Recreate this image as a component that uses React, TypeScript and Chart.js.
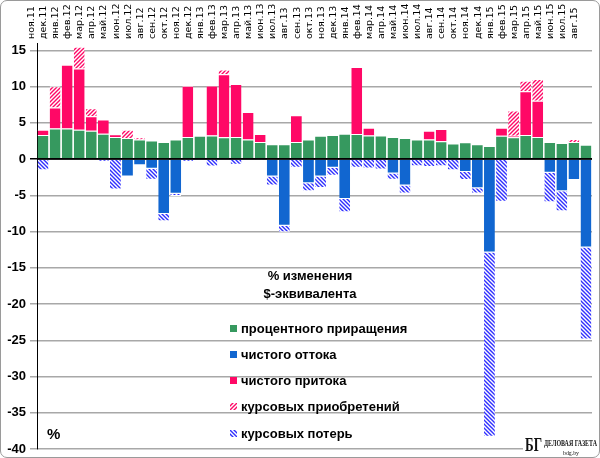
import { useEffect, useRef } from 'react';
import { Chart, registerables } from 'chart.js';

Chart.register(...registerables);

const months = [
  'ноя.11', 'дек.11', 'янв.12', 'фев.12', 'мар.12', 'апр.12', 'май.12', 'июн.12', 'июл.12', 'авг.12',
  'сен.12', 'окт.12', 'ноя.12', 'дек.12', 'янв.13', 'фев.13', 'мар.13', 'апр.13', 'май.13', 'июн.13',
  'июл.13', 'авг.13', 'сен.13', 'окт.13', 'ноя.13', 'дек.13', 'янв.14', 'фев.14', 'мар.14', 'апр.14',
  'май.14', 'июн.14', 'июл.14', 'авг.14', 'сен.14', 'окт.14', 'ноя.14', 'дек.14', 'янв.15', 'фев.15',
  'мар.15', 'апр.15', 'май.15', 'июн.15', 'июл.15', 'авг.15',
];

// процентного приращения
const interest = [
  3.3, 4.2, 4.2, 4.05, 3.9, 3.5, 3.05, 2.9, 2.7, 2.55,
  2.35, 2.7, 3.05, 3.2, 3.25, 3.0, 3.05, 2.7, 2.35, 2.05,
  2.05, 2.35, 2.7, 3.2, 3.3, 3.5, 3.45, 3.25, 3.25, 3.05,
  2.9, 2.7, 2.7, 2.45, 2.15, 2.3, 2.05, 1.8, 3.2, 3.0,
  3.3, 3.05, 2.35, 2.2, 2.35, 1.95,
];

// чистого оттока
const outflow = [
  null, null, null, null, null, null, null, -2.4, -0.85, -1.35,
  -7.6, -4.8, null, -0.15, null, null, null, null, -0.1, -2.4,
  -9.2, null, -3.35, -2.4, -1.2, -5.5, null, null, null, -2.0,
  -3.65, null, null, null, null, -1.8, -4.05, -12.9, null, null,
  null, null, -1.9, -4.45, -2.9, -12.2,
];

// чистого притока
const inflow = [
  0.75, 2.9, 8.8, 8.45, 2.0, 1.95, 0.35, null, null, null,
  null, null, 7.05, null, 6.9, 8.7, 7.3, 3.8, 1.1, null,
  null, 3.7, null, null, null, null, 9.25, 1.05, null, null,
  null, null, 1.2, 1.7, null, null, null, null, 1.1, 0.2,
  6.05, 5.0, null, null, null, null,
];

// курсовых приобретений
const fxGains = [
  null, 2.95, null, 3.0, 1.1, null, null, 1.15, 0.3, null,
  null, null, null, null, null, 0.65, null, null, null, null,
  null, null, null, null, null, null, null, null, null, null,
  null, null, null, null, null, null, null, null, null, 3.5,
  1.45, 3.0, null, null, 0.4, null,
];

// курсовых потерь
const fxLosses = [
  -1.55, null, null, null, null, -0.35, -4.2, null, null, -1.5,
  -1.0, -0.3, -0.35, null, -1.05, null, -0.8, null, -0.1, -1.25,
  -0.9, -1.2, -1.1, -1.6, -1.1, -1.85, -1.2, -1.3, -1.45, -0.85,
  -1.1, -1.0, -1.1, -1.0, -1.55, -1.1, -0.7, -25.4, -5.9, null,
  null, null, -4.05, -2.75, null, -12.7,
];

const GREEN = '#36995f';
const BLUE = '#1166d0';
const PINK = '#ff0866';
const HATCH_BLUE = '#2f2fff';

function makeHatch(color: string, dir: '/' | '\\') {
  const c = document.createElement('canvas');
  c.width = 4;
  c.height = 4;
  const g = c.getContext('2d')!;
  g.fillStyle = '#fff';
  g.fillRect(0, 0, 4, 4);
  g.strokeStyle = color;
  g.lineWidth = 1.4;
  g.beginPath();
  if (dir === '/') {
    g.moveTo(-1, 5); g.lineTo(5, -1);
    g.moveTo(-1, 1); g.lineTo(1, -1);
    g.moveTo(3, 5); g.lineTo(5, 3);
  } else {
    g.moveTo(-1, -1); g.lineTo(5, 5);
    g.moveTo(-1, 3); g.lineTo(1, 5);
    g.moveTo(3, -1); g.lineTo(5, 1);
  }
  g.stroke();
  return g.createPattern(c, 'repeat')!;
}

export default function App() {
  const chartRef = useRef<HTMLCanvasElement>(null);
  const chartInstance = useRef<Chart | null>(null);

  useEffect(() => {
    document.body.style.margin = '0';
    if (!chartRef.current) return;
    if (chartInstance.current) chartInstance.current.destroy();
    const ctx = chartRef.current.getContext('2d');
    if (!ctx) return;

    const pinkHatch = makeHatch(PINK, '/');
    const blueHatch = makeHatch(HATCH_BLUE, '\\');

    const barStyle = {
      borderColor: '#ffffff',
      borderWidth: { top: 1, bottom: 1, left: 0, right: 0 },
      borderSkipped: 'start' as const,
      barPercentage: 0.9,
      categoryPercentage: 1,
    };

    const legendItems = [
      { text: 'процентного приращения', fill: GREEN as string | CanvasPattern },
      { text: 'чистого оттока', fill: BLUE },
      { text: 'чистого притока', fill: PINK },
      { text: 'курсовых приобретений', fill: pinkHatch },
      { text: 'курсовых потерь', fill: blueHatch },
    ];
    const legendY = [329, 355, 381, 407, 434];

    const overlay = {
      id: 'overlay',
      afterDatasetsDraw(chart: Chart) {
        const c = chart.ctx;
        const y0 = chart.scales.y.getPixelForValue(0);
        c.save();
        c.strokeStyle = '#000';
        c.lineWidth = 1.5;
        c.beginPath();
        c.moveTo(chart.chartArea.left, y0);
        c.lineTo(chart.chartArea.right, y0);
        c.stroke();
        c.restore();
      },
      afterDraw(chart: Chart) {
        const c = chart.ctx;
        c.save();
        c.fillStyle = '#000';
        c.textBaseline = 'middle';
        c.textAlign = 'center';
        c.font = 'bold 13px "Liberation Sans", Arial, sans-serif';
        c.fillText('% изменения', 310, 276);
        c.fillText('$-эквивалента', 310, 294);

        c.textAlign = 'left';
        legendItems.forEach((it, i) => {
          const cy = legendY[i];
          c.fillStyle = it.fill;
          c.fillRect(230, cy - 4, 7, 7);
          c.fillStyle = '#000';
          c.fillText(it.text, 241, cy);
        });

        c.font = 'bold 15px "Liberation Sans", Arial, sans-serif';
        c.fillText('%', 47, 435);

        // watermark
        c.fillStyle = '#fff';
        c.fillRect(523, 436, 76, 20);
        c.fillStyle = '#111';
        c.font = 'bold 19px "Liberation Serif", serif';
        c.fillText('БГ', 525, 446, 17);
        c.font = 'bold 9px "Liberation Serif", serif';
        c.fillText('ДЕЛОВАЯ ГАЗЕТА', 544, 444, 53);
        c.font = '6px "Liberation Serif", serif';
        c.fillText('bdg.by', 563, 453, 16);
        c.restore();
      },
    };

    chartInstance.current = new Chart(ctx, {
      type: 'bar',
      data: {
        labels: months,
        datasets: [
          { label: 'процентного приращения', data: interest, backgroundColor: GREEN, ...barStyle },
          { label: 'чистого оттока', data: outflow, backgroundColor: BLUE, ...barStyle },
          { label: 'чистого притока', data: inflow, backgroundColor: PINK, ...barStyle },
          { label: 'курсовых приобретений', data: fxGains, backgroundColor: pinkHatch, ...barStyle },
          { label: 'курсовых потерь', data: fxLosses, backgroundColor: blueHatch, ...barStyle },
        ],
      },
      options: {
        responsive: false,
        animation: false,
        layout: { padding: { top: 0, left: 0, right: 8, bottom: 9 } },
        plugins: {
          legend: { display: false },
          tooltip: { enabled: false },
        },
        scales: {
          x: {
            position: 'top',
            stacked: true,
            grid: { display: false, drawTicks: false },
            border: { display: false },
            ticks: {
              autoSkip: false,
              maxRotation: 90,
              minRotation: 90,
              padding: 4,
              color: '#000',
              font: { family: '"DejaVu Sans", Verdana, sans-serif', size: 9.5 },
            },
            afterFit: (scale: any) => {
              scale.height = 43;
              scale.paddingLeft = 0;
              scale.paddingRight = 0;
            },
          },
          y: {
            stacked: true,
            min: -40,
            max: 16,
            ticks: {
              stepSize: 5,
              includeBounds: false,
              padding: 4,
              color: '#000',
              font: { family: '"Liberation Sans", Arial, sans-serif', size: 13, weight: 'bold' },
            },
            grid: {
              color: (c: any) => (c.tick && c.tick.value === 0 ? '#000' : '#a8a8a8'),
              lineWidth: 1.5,
              tickLength: 7,
            },
            border: { display: true, color: '#000', width: 1 },
            afterFit: (scale: any) => {
              scale.width = 37;
              scale.paddingTop = 0;
              scale.paddingBottom = 0;
            },
          },
        },
      },
      plugins: [overlay],
    });

    return () => {
      if (chartInstance.current) {
        chartInstance.current.destroy();
        chartInstance.current = null;
      }
    };
  }, []);

  return (
    <div style={{ position: 'relative', width: 600, height: 458, background: '#fff' }}>
      <canvas ref={chartRef} width={600} height={458} style={{ width: 600, height: 458, display: 'block' }}></canvas>
      <div
        style={{
          position: 'absolute',
          inset: 0,
          border: '1px solid #9a9a9a',
          borderRadius: 7,
          boxSizing: 'border-box',
          pointerEvents: 'none',
        }}
      />
    </div>
  );
}
